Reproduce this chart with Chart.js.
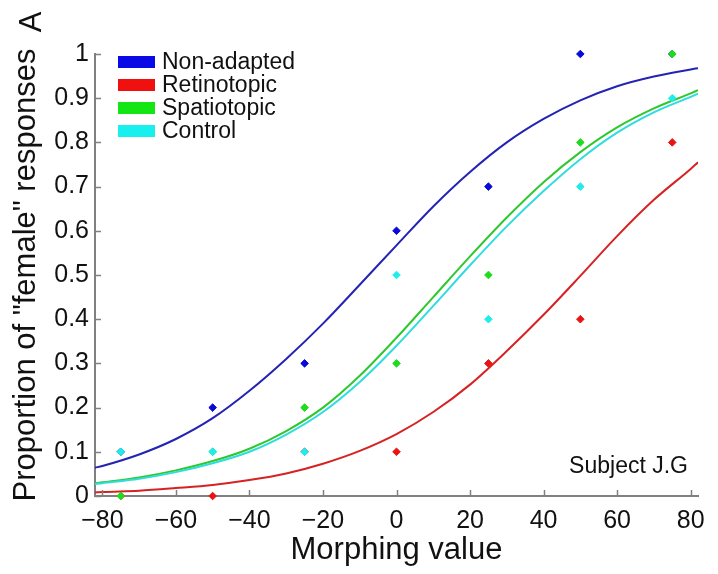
<!DOCTYPE html>
<html>
<head>
<meta charset="utf-8">
<script src="https://cdn.jsdelivr.net/npm/chart.js@4/dist/chart.umd.min.js"></script>
<style>
  html, body { margin: 0; padding: 0; background: #fff; }
  #wrap { width: 718px; height: 574px; }
</style>
</head>
<body>
<div id="wrap"><canvas id="graphCanvas" width="718" height="574"></canvas></div>
<script>
// puntos medidos (proporción de respuestas "female") por nivel de morphing
const morphLevels = [-75, -50, -25, 0, 25, 50, 75];
const nonAdaptedPts = [0.1, 0.2, 0.3, 0.6, 0.7, 1.0, 1.0];
const retinotopicPts = [0, 0, 0.1, 0.1, 0.3, 0.4, 0.8];
const spatiotopicPts = [0, 0.1, 0.2, 0.3, 0.5, 0.8, 1.0];
const controlPts = [0.1, 0.1, 0.1, 0.5, 0.4, 0.7, 0.9];

// curvas ajustadas
const fitX = [-82, -80, -70, -60, -50, -40, -30, -20, -10, 0, 10, 20, 30, 40, 50, 60, 70, 80, 82];
const nonAdaptedFit = [0.064, 0.068, 0.094, 0.129, 0.176, 0.238, 0.31, 0.39, 0.478, 0.567, 0.655, 0.733, 0.8, 0.853, 0.895, 0.927, 0.949, 0.965, 0.968];
const retinotopicFit = [0.008, 0.009, 0.012, 0.018, 0.025, 0.036, 0.051, 0.073, 0.102, 0.14, 0.19, 0.252, 0.328, 0.41, 0.498, 0.588, 0.67, 0.74, 0.755];
const spatiotopicFit = [0.029, 0.031, 0.042, 0.058, 0.079, 0.107, 0.147, 0.2, 0.272, 0.358, 0.45, 0.542, 0.63, 0.71, 0.778, 0.834, 0.877, 0.911, 0.918];
const controlFit = [0.027, 0.029, 0.039, 0.054, 0.074, 0.1, 0.139, 0.19, 0.258, 0.34, 0.43, 0.522, 0.61, 0.69, 0.762, 0.822, 0.868, 0.903, 0.91];

const seriesNames = ["Non-adapted", "Retinotopic", "Spatiotopic", "Control"];
const lineColors = ["#2323b4", "#d62222", "#2ec82e", "#30dcdc"];
const pointColors = ["#0a0ad8", "#e81414", "#1edc1e", "#20ecec"];
const legendColors = ["#0a0ae6", "#f01010", "#14e614", "#18f0f0"];

const xTickValues = [-80, -60, -40, -20, 0, 20, 40, 60, 80];
const xTickLabels = ["\u221280", "\u221260", "\u221240", "\u221220", "0", "20", "40", "60", "80"];
const yTickValues = [0, 0.1, 0.2, 0.3, 0.4, 0.5, 0.6, 0.7, 0.8, 0.9, 1];
const yTickLabels = ["0", "0.1", "0.2", "0.3", "0.4", "0.5", "0.6", "0.7", "0.8", "0.9", "1"];

const FONT = "'Liberation Sans', Arial, Helvetica, sans-serif";
const AXIS_GRAY = "#808080";

function toPoints(xs, ys) {
  return xs.map((x, i) => ({ x: x, y: ys[i] }));
}

const fits = [nonAdaptedFit, retinotopicFit, spatiotopicFit, controlFit];
const pts = [nonAdaptedPts, retinotopicPts, spatiotopicPts, controlPts];

let datasets = [];

// curvas (order alto = se dibujan primero)
for (let i = 0; i < fits.length; i++) {
  datasets.push({
    type: "line",
    label: seriesNames[i],
    isFit: true,
    legendColor: legendColors[i],
    order: 20 - i,
    data: toPoints(fitX, fits[i]),
    borderColor: lineColors[i],
    borderWidth: 2,
    pointRadius: 0,
    fill: false,
    cubicInterpolationMode: "monotone",
  });
}

// puntos: el último de la lista queda encima, como en el original
for (let i = 0; i < pts.length; i++) {
  datasets.push({
    type: "scatter",
    label: seriesNames[i] + " data",
    order: 10 - i,
    clip: false,
    data: toPoints(morphLevels, pts[i]),
    showLine: false,
    pointStyle: "rectRot",
    pointRadius: 3.8,
    pointBorderWidth: 1,
    pointBorderColor: pointColors[i],
    pointBackgroundColor: pointColors[i],
  });
}

// ticks hacia adentro, leyenda dentro del área y textos extra
const decorPlugin = {
  id: "decor",
  afterDraw(chart) {
    const ctx = chart.ctx;
    const area = chart.chartArea;
    const xs = chart.scales.x;
    const ys = chart.scales.y;

    ctx.save();
    ctx.strokeStyle = AXIS_GRAY;
    ctx.lineWidth = 1.5;
    xs.ticks.forEach((t) => {
      const px = Math.round(xs.getPixelForValue(t.value)) + 0.5;
      ctx.beginPath();
      ctx.moveTo(px, area.bottom);
      ctx.lineTo(px, area.bottom - 6);
      ctx.stroke();
    });
    ys.ticks.forEach((t) => {
      const py = Math.round(ys.getPixelForValue(t.value)) + 0.5;
      ctx.beginPath();
      ctx.moveTo(area.left, py);
      ctx.lineTo(area.left + 6, py);
      ctx.stroke();
    });

    // leyenda
    const fitSets = chart.data.datasets.filter((d) => d.isFit);
    ctx.font = "23px " + FONT;
    ctx.textBaseline = "middle";
    ctx.textAlign = "left";
    fitSets.forEach((d, i) => {
      const top = area.top + 2 + i * 23;
      ctx.fillStyle = d.legendColor;
      ctx.fillRect(area.left + 23, top, 37, 12);
      ctx.fillStyle = "#111";
      ctx.fillText(d.label, area.left + 67, top + 7);
    });

    // etiqueta del sujeto
    ctx.font = "23px " + FONT;
    ctx.textAlign = "right";
    ctx.textBaseline = "alphabetic";
    ctx.fillStyle = "#111";
    ctx.fillText("Subject J.G", area.right - 10, area.bottom - 23);

    // letra del panel
    ctx.translate(32, 22);
    ctx.rotate(-Math.PI / 2);
    ctx.font = "31px " + FONT;
    ctx.textAlign = "center";
    ctx.textBaseline = "middle";
    ctx.fillText("A", 0, 0);
    ctx.restore();
  },
};

const ctx = document.getElementById("graphCanvas").getContext("2d");

const chartData = {
  type: "scatter",
  data: { datasets },
  options: {
    responsive: false,
    animation: false,
    devicePixelRatio: 1,
    layout: { padding: { top: 54, right: 20, left: 0, bottom: 0 } },
    plugins: {
      legend: { display: false },
      tooltip: { enabled: false },
    },
    scales: {
      x: {
        type: "linear",
        position: "bottom",
        min: -82,
        max: 82,
        afterBuildTicks: (s) => {
          s.ticks = xTickValues.map((v) => ({ value: v }));
        },
        afterFit: (s) => {
          s.height = 78;
        },
        grid: { display: false, drawTicks: false },
        border: { display: true, color: AXIS_GRAY, width: 2 },
        ticks: {
          color: "#111",
          padding: 10,
          maxRotation: 0,
          font: { family: FONT, size: 25 },
          callback: (v, i) => xTickLabels[i],
        },
        title: {
          display: true,
          text: "Morphing value",
          color: "#111",
          font: { family: FONT, size: 31 },
          padding: { top: 0, bottom: 5 },
        },
      },
      y: {
        type: "linear",
        position: "left",
        min: 0,
        max: 1,
        afterBuildTicks: (s) => {
          s.ticks = yTickValues.map((v) => ({ value: v }));
        },
        afterFit: (s) => {
          s.width = 95;
        },
        grid: { display: false, drawTicks: false },
        border: { display: true, color: AXIS_GRAY, width: 2 },
        ticks: {
          color: "#111",
          padding: 6,
          font: { family: FONT, size: 25 },
          callback: (v, i) => yTickLabels[i],
        },
        title: {
          display: true,
          text: "Proportion of \"female\" responses",
          color: "#111",
          font: { family: FONT, size: 31 },
          padding: { top: 8, bottom: 0 },
        },
      },
    },
  },
  plugins: [decorPlugin],
};

let myChart = new Chart(ctx, chartData);
</script>
</body>
</html>
